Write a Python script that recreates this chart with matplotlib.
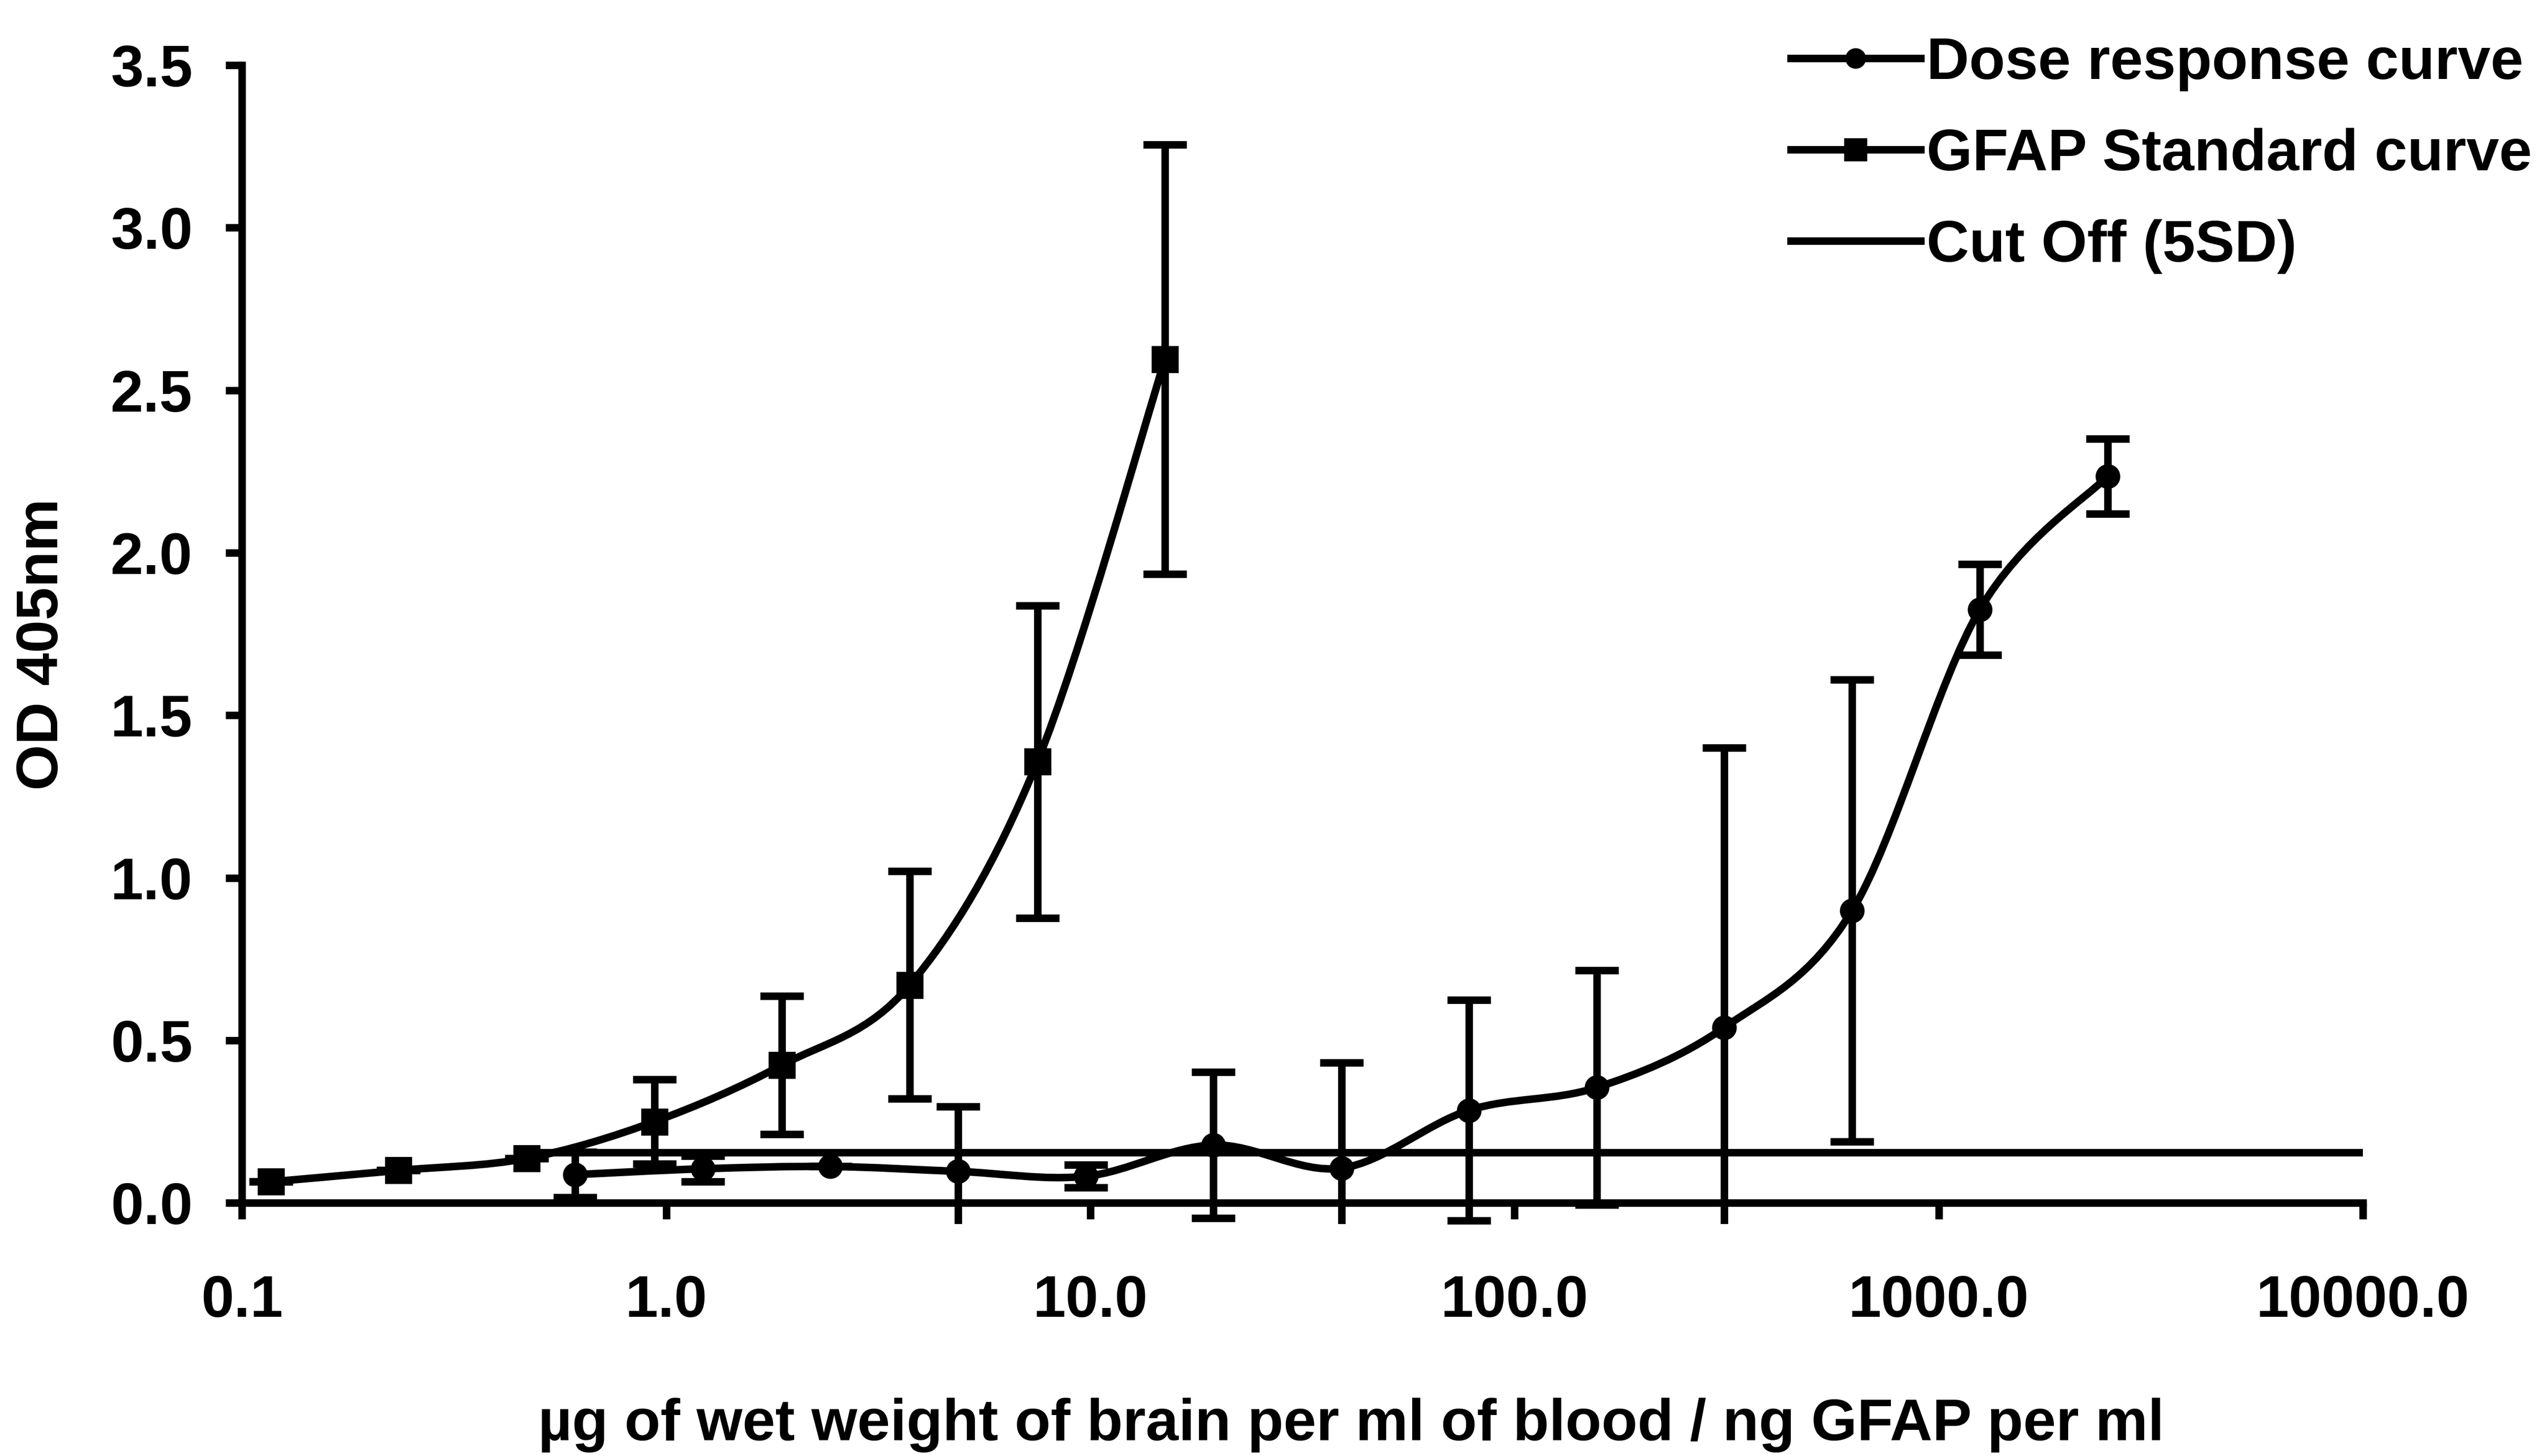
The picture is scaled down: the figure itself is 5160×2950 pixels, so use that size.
import numpy as np
import matplotlib
matplotlib.use("Agg")
import matplotlib.pyplot as plt
from matplotlib.path import Path
from matplotlib.patches import PathPatch
from matplotlib.lines import Line2D

plt.rcParams['font.family'] = ['Liberation Sans', 'DejaVu Sans']
plt.rcParams['font.weight'] = 'bold'

# data
gfap_x = [0.117, 0.234, 0.469, 0.938, 1.875, 3.75, 7.5, 15.0]
gfap_y = [0.065, 0.10, 0.137, 0.25, 0.424, 0.67, 1.357, 2.595]
gfap_err = [0.0, 0.0, 0.0, 0.13, 0.213, 0.35, 0.48, 0.66]

dose_x = [0.61, 1.22, 2.44, 4.88, 9.77, 19.5, 39.1, 78.1, 156.25, 312.5, 625.0, 1250.0, 2500.0]
dose_y = [0.087, 0.105, 0.112, 0.097, 0.082, 0.178, 0.107, 0.285, 0.355, 0.54, 0.899, 1.825, 2.235]
dose_err = [0.07, 0.04, 0.0, 0.2, 0.035, 0.225, 0.325, 0.34, 0.36, 0.86, 0.71, 0.14, 0.115]

cutoff_x = [0.469, 10000.0]
cutoff_y = [0.155, 0.155]

x_ticks = [0.1, 1, 10, 100, 1000, 10000]
x_ticklabels = ['0.1', '1.0', '10.0', '100.0', '1000.0', '10000.0']
y_ticks = [0.0, 0.5, 1.0, 1.5, 2.0, 2.5, 3.0, 3.5]

LW = 5.5
FS = 43


def smooth_path(xs, ys):
    # excel-like smoothed line: catmull-rom bezier built in log-x space
    u = np.log10(np.asarray(xs, float))
    v = np.asarray(ys, float)
    p = np.column_stack([u, v])
    n = len(p)
    verts = [p[0]]
    codes = [Path.MOVETO]
    for i in range(n - 1):
        p0 = p[max(i - 1, 0)]
        p3 = p[min(i + 2, n - 1)]
        c1 = p[i] + (p[i + 1] - p0) / 6.0
        c2 = p[i + 1] - (p3 - p[i]) / 6.0
        verts += [c1, c2, p[i + 1]]
        codes += [Path.CURVE4] * 3
    verts = np.array(verts)
    verts[:, 0] = 10 ** verts[:, 0]
    return Path(verts, codes)


fig = plt.figure(figsize=(25.8, 14.75), dpi=200)
ax = fig.add_axes([0.095, 0.1593, 0.8327, 0.796])
ax.set_xscale('log')
ax.set_xlim(0.1, 10000)
ax.set_ylim(-0.065, 3.5)

# cut off line
ax.plot(cutoff_x, cutoff_y, color='black', lw=LW, solid_capstyle='butt', zorder=2)

# smoothed curves
for xs, ys in [(gfap_x, gfap_y), (dose_x, dose_y)]:
    ax.add_patch(PathPatch(smooth_path(xs, ys), fill=False, ec='black', lw=LW, zorder=3))

# error bars
ax.errorbar(gfap_x, gfap_y, yerr=gfap_err, fmt='none', ecolor='black',
            elinewidth=LW, capsize=16, capthick=LW, zorder=3)
ax.errorbar(dose_x, dose_y, yerr=dose_err, fmt='none', ecolor='black',
            elinewidth=LW, capsize=16, capthick=LW, zorder=3)

# markers
ax.plot(gfap_x, gfap_y, ls='none', marker='s', ms=19, color='black', zorder=4)
ax.plot(dose_x, dose_y, ls='none', marker='o', ms=17, color='black', zorder=4)

# axes styling
for s in ['top', 'right']:
    ax.spines[s].set_visible(False)
ax.spines['bottom'].set_position(('data', 0))
ax.spines['left'].set_bounds(0, 3.5)
for s in ['bottom', 'left']:
    ax.spines[s].set_linewidth(LW)

ax.set_xticks(x_ticks)
ax.set_xticklabels(x_ticklabels)
ax.xaxis.set_minor_locator(matplotlib.ticker.NullLocator())
ax.set_yticks(y_ticks)
ax.set_yticklabels(['%.1f' % t for t in y_ticks])
ax.tick_params(axis='x', direction='out', length=12, width=LW, pad=40, labelsize=FS)
ax.tick_params(axis='y', direction='out', length=12, width=LW, pad=24, labelsize=FS)

ax.set_ylabel('OD 405nm', fontsize=FS, fontweight='bold')
ax.yaxis.set_label_coords(-0.081, 0.5)
ax.set_xlabel('\u00b5g of wet weight of brain per ml of blood / ng GFAP per ml',
              fontsize=FS, fontweight='bold')
ax.xaxis.set_label_coords(0.523, -0.15)

handles = [
    Line2D([], [], color='black', lw=LW, marker='o', ms=14),
    Line2D([], [], color='black', lw=LW, marker='s', ms=16),
    Line2D([], [], color='black', lw=LW),
]
labels = ['Dose response curve', 'GFAP Standard curve', 'Cut Off (5SD)']
fig.legend(handles, labels, loc='upper right', bbox_to_anchor=(0.994, 0.975),
           frameon=False, fontsize=FS, handlelength=2.2, handletextpad=0.1,
           labelspacing=0.62, borderpad=0, borderaxespad=0)

fig.savefig('out.png', dpi=200)
